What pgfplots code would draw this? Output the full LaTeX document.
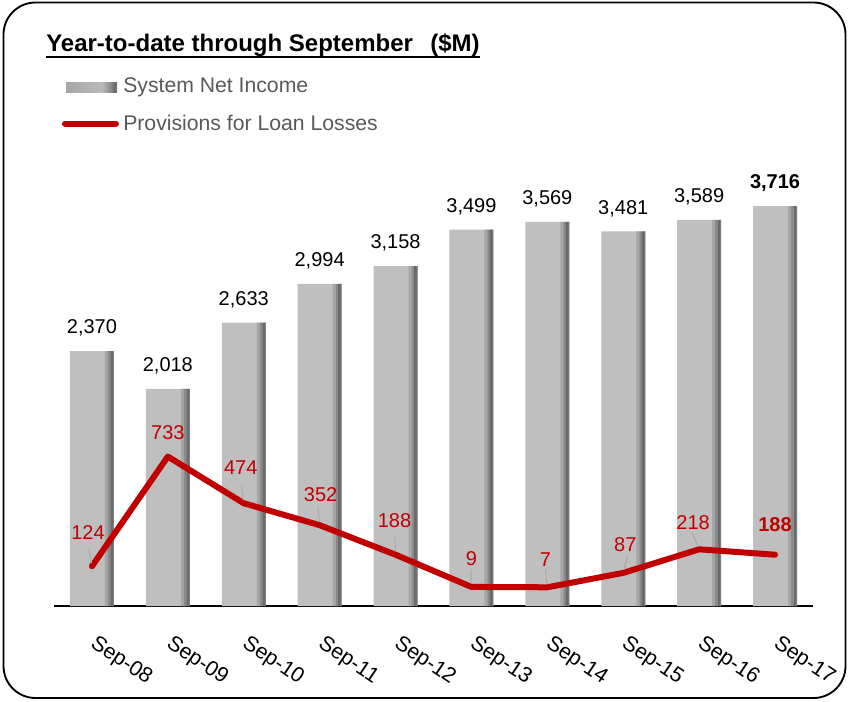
\documentclass[border=0pt]{standalone}
\usepackage{pgfplots}
\pgfplotsset{compat=1.18}
\usepackage{pgfplotstable}
\usepackage{fontspec}
\setmainfont{Liberation Sans}

\definecolor{provred}{HTML}{C00000}
\definecolor{legtext}{HTML}{595959}
\definecolor{barL}{HTML}{BFBFBF}
\definecolor{barA}{HTML}{A6A6A6}
\definecolor{barB}{HTML}{8A8A8A}
\definecolor{barC}{HTML}{6A6A6A}
\definecolor{barE}{HTML}{7E7E7E}
\definecolor{leadgray}{HTML}{A9A9A9}
\pgfdeclarehorizontalshading{barshade}{100bp}{color(0bp)=(barA); color(25bp)=(barA);
  color(60bp)=(barL!80!barA); color(69bp)=(barB); color(72.5bp)=(barC); color(75bp)=(barE); color(100bp)=(barE)}

% system net income, $M (b = bold label)
\pgfplotstableread{
x ni b
0 2370 0
1 2018 0
2 2633 0
3 2994 0
4 3158 0
5 3499 0
6 3569 0
7 3481 0
8 3589 0
9 3716 1
}\incometable

% provisions for loan losses, $M; label offsets in px, leader angle
\pgfplotstableread{
x pv dx dy ang lead b
0 124 -4 34 10 1 0
1 733 0 24 0 0 0
2 474 -3 36 7 1 0
3 352 1 31 5 1 0
4 188 -1 34 2 1 0
5 9 0 28 2 1 0
6 7 -2 28 6 1 0
7 87 2 28 -14 1 0
8 218 -6 27 23 1 0
9 188 0 30 0 0 1
}\provtable

\newcommand{\boldif}[1]{\ifdim#1pt>0.5pt\bfseries\fi}

\begin{document}
\begin{tikzpicture}
\def\px{0.75pt}
\path[use as bounding box] (0,0) rectangle (849*\px,-701*\px);
\draw[line width=1.4pt, rounded corners=24pt] (3.5*\px,-2.5*\px) rectangle (845.5*\px,-698*\px);

% title
\node[anchor=base west, inner sep=0pt, font=\fontsize{18}{20}\selectfont\bfseries] (title)
  at (46*\px,-51.5*\px) {Year-to-date through September\hspace{13pt}(\$M)};
\draw[line width=1.5pt] ([yshift=-3.9pt]title.base west) -- ([yshift=-3.9pt]title.base east);

% legend
\shade[shading=barshade] (66*\px,-82*\px) rectangle (117*\px,-92*\px);
\node[anchor=base west, inner sep=0pt, text=legtext, font=\fontsize{15.9}{18}\selectfont]
  at (123*\px,-92*\px) {System Net Income};
\draw[provred, line width=4.5pt, line cap=round] (65*\px,-123.5*\px) -- (116*\px,-123.5*\px);
\node[anchor=base west, inner sep=0pt, text=legtext, font=\fontsize{15.9}{18}\selectfont]
  at (123*\px,-130*\px) {Provisions for Loan Losses};

\pgfplotsset{chartbase/.style={
  at={(54*\px,-606*\px)}, anchor=south west,
  scale only axis, width=569.25pt, height=322.8pt,
  xmin=-0.5, xmax=9.5, clip=false},
  edgestrip/.style 2 args={ybar, draw=none, fill=#1, bar width=#2*0.75pt, forget plot}}

\begin{axis}[chartbase,
  ymin=0, ymax=4000,
  axis x line*=bottom, axis y line=none,
  x axis line style={line width=1.5pt, -},
  ytick=\empty,
  xtick={0,...,9},
  xticklabels={Sep-08,Sep-09,Sep-10,Sep-11,Sep-12,Sep-13,Sep-14,Sep-15,Sep-16,Sep-17},
  major tick length=0pt,
  xticklabel style={anchor=north west, inner sep=0pt, xshift=4.5pt, yshift=-20.5pt,
    rotate=-34, font=\fontsize{16}{16}\selectfont},
]
% bar bodies with value labels
\addplot[ybar, draw=none, fill=barL, bar width=33pt, bar shift=0pt,
  visualization depends on={\thisrow{b}\as\isbold},
  nodes near coords={\boldif{\isbold}%
    \pgfmathprintnumber[assume math mode=true,1000 sep={,}]{\pgfplotspointmeta}},
  every node near coord/.style={anchor=center, inner sep=0pt, yshift=17.25pt,
    text=black, font=\fontsize{15}{15}\selectfont}]
  table[x=x, y=ni] {\incometable};
% darker right edge of each bar
\addplot[edgestrip={barA}{3}, bar shift=14.5*0.75pt] table[x=x, y=ni] {\incometable};
\addplot[edgestrip={barB}{2.5}, bar shift=17.25*0.75pt] table[x=x, y=ni] {\incometable};
\addplot[edgestrip={barC}{3}, bar shift=20*0.75pt] table[x=x, y=ni] {\incometable};
\addplot[edgestrip={barE}{1}, bar shift=21.5*0.75pt] table[x=x, y=ni] {\incometable};
\end{axis}

\begin{axis}[chartbase,
  ymin=-97, ymax=2294,
  axis lines=none, xtick=\empty, ytick=\empty,
]
% leader lines
\addplot[draw=none, mark=none, forget plot,
  visualization depends on={\thisrow{ang}\as\leadang},
  visualization depends on={\thisrow{lead}\as\haslead},
  nodes near coords={\ifdim\haslead pt>0.5pt\textcolor{leadgray}{\rule{0.8pt}{11pt}}\fi},
  every node near coord/.style={anchor=south, inner sep=0pt, rotate=\leadang, yshift=2.25pt}]
  table[x=x, y=pv] {\provtable};
\addplot[provred, line width=4.5pt, line join=round, line cap=round, mark=none]
  table[x=x, y=pv] {\provtable};
% value labels
\addplot[draw=none, mark=none, forget plot,
  visualization depends on={\thisrow{dx}\as\lblx},
  visualization depends on={\thisrow{dy}\as\lbly},
  visualization depends on={\thisrow{b}\as\isbold},
  nodes near coords={\boldif{\isbold}%
    \pgfmathprintnumber[assume math mode=true]{\pgfplotspointmeta}},
  every node near coord/.style={anchor=center, inner sep=0pt, text=provred,
    xshift=\lblx*0.75pt, yshift=\lbly*0.75pt, font=\fontsize{15}{15}\selectfont}]
  table[x=x, y=pv] {\provtable};
\end{axis}
\end{tikzpicture}
\end{document}
